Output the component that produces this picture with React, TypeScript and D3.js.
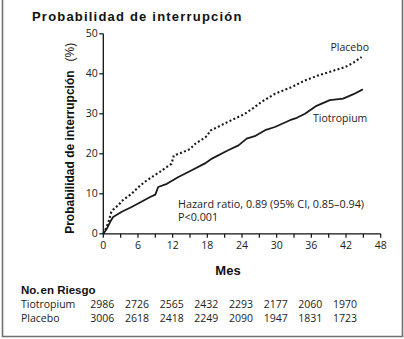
import React from "react";
import * as d3 from "d3";

const placeboMonths = [0, 0.5, 0.9, 1.4, 2, 2.6, 3.2, 3.75, 4.9, 6.1, 7.2, 8.4, 9.8, 11, 11.8, 12.2, 13.6, 15, 15.9, 17, 18, 18.5, 19.5, 21.6, 24.5, 26, 27.4, 29.7, 32.6, 35, 37, 39.2, 41, 42, 43.3, 44.7];
const placeboValues = [0, 1.5, 3, 5.5, 6.5, 7.1, 8.2, 8.8, 10, 11.7, 13, 14.2, 15.5, 16.7, 17.5, 19.6, 20.3, 21.2, 22.5, 23.5, 24.5, 25.8, 26.5, 28, 30, 31.5, 33, 35, 36.7, 38.4, 39.5, 40.5, 41.3, 41.8, 42.8, 44.2];

const tioMonths = [0, 0.5, 1.2, 1.7, 3.2, 4.9, 6.6, 8.1, 9, 9.5, 11, 13, 15.3, 17.6, 18.8, 21.6, 23.4, 24.8, 26.2, 28, 29.7, 32.3, 33.5, 34.9, 36.9, 39.2, 41.5, 43.3, 44.9];
const tioValues = [0, 1, 3, 4.2, 5.5, 6.7, 8, 9.2, 9.8, 11.7, 12.5, 14.2, 15.9, 17.6, 18.8, 20.9, 22.1, 23.8, 24.4, 25.9, 26.7, 28.4, 29, 30, 32, 33.4, 33.8, 34.9, 36.1];

const xTicks = [0, 3, 6, 9, 12, 15, 18, 21, 24, 27, 30, 33, 36, 39, 42, 45, 48];
const xTickLabels = [0, 6, 12, 18, 24, 30, 36, 42, 48];
const yTicks = [0, 10, 20, 30, 40, 50];

const riskMonths = [0, 6, 12, 18, 24, 30, 36, 42];
const riskTio = [2986, 2726, 2565, 2432, 2293, 2177, 2060, 1970];
const riskPlacebo = [3006, 2618, 2418, 2249, 2090, 1947, 1831, 1723];

const W = 404;
const H = 339;
const sans = "'Open Sans', sans-serif";
const bold = "'Liberation Sans', Arial, sans-serif";

export default function App() {
  const x = d3.scaleLinear().domain([0, 48]).range([103.3, 380.7]);
  const y = d3.scaleLinear().domain([0, 50]).range([233.8, 33.8]);
  const line = d3
    .line<[number, number]>()
    .x((d) => x(d[0]))
    .y((d) => y(d[1]));
  const placebo = placeboMonths.map((m, i) => [m, placeboValues[i]] as [number, number]);
  const tio = tioMonths.map((m, i) => [m, tioValues[i]] as [number, number]);
  const y0 = y(0);
  const x0 = x(0);

  return (
    <svg
      width={W}
      height={H}
      style={{ position: "fixed", left: 0, top: 0, background: "#fff" }}
    >
      <rect x={0} y={0} width={W} height={H} fill="#fff" />
      {/* frame */}
      <path d={`M2.5,-2 V336.5 H402.5 V-2`} fill="none" stroke="#707070" strokeWidth={1.6} />

      {/* title */}
      <text x={32} y={20.5} fontFamily={bold} fontWeight="bold" fontSize={13} letterSpacing={1.2} fill="#111">
        Probabilidad de interrupción
      </text>

      {/* y axis */}
      <line x1={x0} x2={x0} y1={y(50)} y2={y0} stroke="#111" strokeWidth={1.3} />
      {yTicks.map((t) => (
        <g key={"yt" + t}>
          <line x1={x0 - 4} x2={x0} y1={y(t)} y2={y(t)} stroke="#111" strokeWidth={1.2} />
          <text x={x0 - 5.5} y={y(t) + 3.6} textAnchor="end" fontFamily={sans} fontSize={10.5} fill="#222">
            {t}
          </text>
        </g>
      ))}

      {/* x axis */}
      <line x1={x0} x2={x(48)} y1={y0} y2={y0} stroke="#111" strokeWidth={1.3} />
      {xTicks.map((t) => (
        <line key={"xt" + t} x1={x(t)} x2={x(t)} y1={y0} y2={y0 + 4} stroke="#111" strokeWidth={1.2} />
      ))}
      {xTickLabels.map((t) => (
        <text key={"xl" + t} x={x(t)} y={y0 + 15} textAnchor="middle" fontFamily={sans} fontSize={10.5} fill="#222">
          {t}
        </text>
      ))}

      {/* axis titles */}
      <text
        transform={`translate(73.5,${y0}) rotate(-90)`}
        fontFamily={bold}
        fontWeight="bold"
        fontSize={12}
        fill="#111"
      >
        Probabilidad de interrupción
        <tspan fontWeight="normal" dx={9}>(%)</tspan>
      </text>
      <text x={228} y={275} textAnchor="middle" fontFamily={bold} fontWeight="bold" fontSize={13} fill="#111">
        Mes
      </text>

      {/* curves */}
      <path d={line(tio) || ""} fill="none" stroke="#1a1a1a" strokeWidth={1.8} strokeLinejoin="round" />
      <path d={line(placebo) || ""} fill="none" stroke="#1a1a1a" strokeWidth={2.1} strokeDasharray="2 2.3" />

      {/* annotations */}
      <text x={330.5} y={50.5} fontFamily={sans} fontSize={10.5} fill="#222">Placebo</text>
      <text x={313} y={122} fontFamily={sans} fontSize={10.5} fill="#222">Tiotropium</text>
      <text x={178} y={207.5} fontFamily={sans} fontSize={10.8} fill="#222">
        Hazard ratio, 0.89 (95% CI, 0.85–0.94)
      </text>
      <text x={178} y={221} fontFamily={sans} fontSize={10.8} fill="#222">P&lt;0.001</text>

      {/* risk table */}
      <text x={21} y={294} fontFamily={bold} fontWeight="bold" fontSize={11.5} fill="#111">
        No.<tspan dx={1}>en Riesgo</tspan>
      </text>
      <text x={21} y={308} fontFamily={sans} fontSize={10.5} fill="#222">Tiotropium</text>
      <text x={21} y={322} fontFamily={sans} fontSize={10.5} fill="#222">Placebo</text>
      {riskMonths.map((m, i) => (
        <g key={"r" + m}>
          <text x={x(m) - 13} y={308} fontFamily={sans} fontSize={10.5} fill="#222">{riskTio[i]}</text>
          <text x={x(m) - 13} y={322} fontFamily={sans} fontSize={10.5} fill="#222">{riskPlacebo[i]}</text>
        </g>
      ))}
    </svg>
  );
}
